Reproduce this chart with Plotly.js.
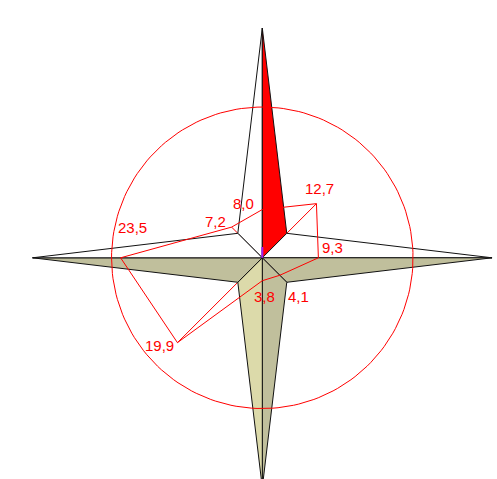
<!DOCTYPE html>
<html>
<head>
<meta charset="utf-8">
<script src="https://cdn.plot.ly/plotly-3.0.1.min.js"></script>
<style>html,body{margin:0;padding:0;background:#fff;}#chart{width:497px;height:479px;}</style>
</head>
<body>
<div id="chart"></div>
<script>
// ---- data ----
const directions = ['N', 'NE', 'E', 'SE', 'S', 'SW', 'W', 'NW'];
const bearings = [0, 45, 90, 135, 180, 225, 270, 315];
const values = [8.0, 12.7, 9.3, 4.1, 3.8, 19.9, 23.5, 7.2];
const labels = ['8,0', '12,7', '9,3', '4,1', '3,8', '19,9', '23,5', '7,2'];
const circleRadius = 25;

// ---- geometry helpers ----
const rad = d => d * Math.PI / 180;
const px = (r, b) => r * Math.sin(rad(b));
const py = (r, b) => r * Math.cos(rad(b));

const vx = values.map((v, i) => px(v, bearings[i]));
const vy = values.map((v, i) => py(v, bearings[i]));

const TIP = 38.1, J = 4.06;
const traces = [];

// spokes (drawn beneath the star)
const sx = [], sy = [];
vx.forEach((x, i) => { sx.push(0, x, null); sy.push(0, vy[i], null); });
traces.push({x: sx, y: sy, mode: 'lines', line: {color: 'red', width: 1}, hoverinfo: 'skip'});

// compass star half-arms
function tri(pts, fill) {
  traces.push({
    x: pts.map(p => p[0]).concat([pts[0][0]]),
    y: pts.map(p => p[1]).concat([pts[0][1]]),
    mode: 'lines', fill: 'toself', fillcolor: fill,
    line: {color: '#111', width: 1}, hoverinfo: 'skip'
  });
}
const C = [0, 0];
tri([C, [0, TIP], [-J, J]], '#ffffff');      // N left
tri([C, [0, TIP], [J, J]], '#ff0000');       // N right
tri([C, [J, J], [TIP, 0]], '#ffffff');       // E upper
tri([C, [TIP, 0], [J, -J]], '#c0bf9c');      // E lower
tri([C, [J, -J], [0, -TIP]], '#c0bf9c');     // S right
tri([C, [0, -TIP], [-J, -J]], '#dcdaaa');    // S left
tri([C, [-J, -J], [-TIP, 0]], '#c0bf9c');    // W lower
tri([C, [-TIP, 0], [-J, J]], '#ffffff');     // W upper

// small purple mark at centre
traces.push({x: [0, 0], y: [0, 1.8], mode: 'lines', line: {color: '#a020f0', width: 2}, hoverinfo: 'skip'});

// reference circle
const cx = [], cy = [];
for (let a = 0; a <= 360; a += 2) { cx.push(px(circleRadius, a)); cy.push(py(circleRadius, a)); }
traces.push({x: cx, y: cy, mode: 'lines', line: {color: 'red', width: 1}, hoverinfo: 'skip'});

// data polygon
traces.push({x: vx.concat([vx[0]]), y: vy.concat([vy[0]]), mode: 'lines',
  line: {color: 'red', width: 1}, hoverinfo: 'skip'});

// labels
const offs = {N: [-19, 6], NE: [3.5, 15], E: [14, 10], SE: [19, -21], S: [2, -16], SW: [-18, -3], W: [12, 30], NW: [-16, 6]};
const annotations = directions.map((d, i) => ({
  x: vx[i], y: vy[i], xref: 'x', yref: 'y', text: labels[i], showarrow: false,
  xshift: offs[d][0], yshift: offs[d][1],
  font: {family: 'Liberation Sans, Arial, sans-serif', size: 15, color: 'red'}
}));

const S = 6.03;
const layout = {
  width: 497, height: 479, autosize: false,
  margin: {l: 0, r: 0, t: 0, b: 0, pad: 0},
  paper_bgcolor: '#fff', plot_bgcolor: '#fff',
  showlegend: false,
  xaxis: {range: [-262.3 / S, (497 - 262.3) / S], visible: false, fixedrange: true},
  yaxis: {range: [-(479 - 257.8) / S, 257.8 / S], visible: false, fixedrange: true},
  annotations: annotations
};
Plotly.newPlot('chart', traces, layout, {staticPlot: true, displayModeBar: false});
</script>
</body>
</html>
